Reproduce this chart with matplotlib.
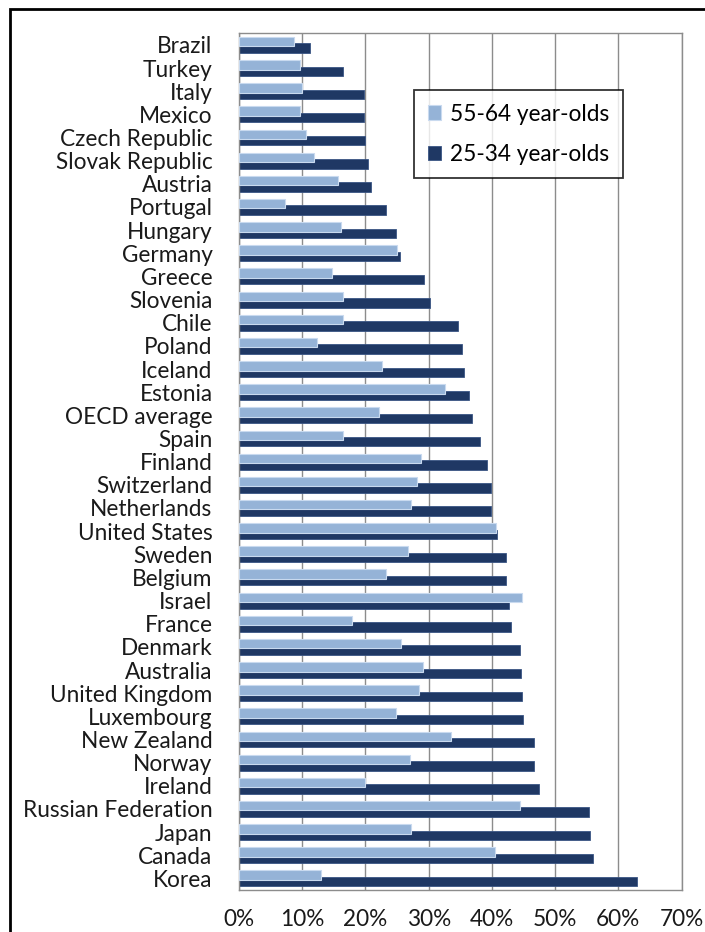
import matplotlib
matplotlib.use("Agg")
import matplotlib.pyplot as plt
from matplotlib.patches import Rectangle
import numpy as np

countries = ["Brazil", "Turkey", "Italy", "Mexico", "Czech Republic", "Slovak Republic",
             "Austria", "Portugal", "Hungary", "Germany", "Greece", "Slovenia", "Chile",
             "Poland", "Iceland", "Estonia", "OECD average", "Spain", "Finland",
             "Switzerland", "Netherlands", "United States", "Sweden", "Belgium", "Israel",
             "France", "Denmark", "Australia", "United Kingdom", "Luxembourg",
             "New Zealand", "Norway", "Ireland", "Russian Federation", "Japan", "Canada",
             "Korea"]
older_55_64 = [8.7, 9.6, 10.0, 9.6, 10.6, 11.9, 15.7, 7.2, 16.1, 25.0, 14.7, 16.5, 16.5,
               12.4, 22.6, 32.6, 22.1, 16.4, 28.8, 28.1, 27.2, 40.6, 26.7, 23.2, 44.8,
               17.8, 25.6, 29.1, 28.4, 24.8, 33.5, 27.0, 20.0, 44.4, 27.2, 40.5, 13.0]
younger_25_34 = [11.3, 16.4, 19.8, 19.8, 20.0, 20.4, 20.8, 23.2, 24.8, 25.5, 29.2, 30.2,
                 34.7, 35.3, 35.6, 36.3, 36.8, 38.1, 39.2, 39.8, 39.9, 40.8, 42.2, 42.3,
                 42.7, 43.0, 44.5, 44.6, 44.7, 44.9, 46.6, 46.7, 47.4, 55.3, 55.5, 56.0,
                 62.9]
xticks = [0, 10, 20, 30, 40, 50, 60, 70]
xtick_labels = ["0%", "10%", "20%", "30%", "40%", "50%", "60%", "70%"]

plt.rcParams['font.family'] = ['Lato', 'DejaVu Sans']

W, H = 705, 932
fig = plt.figure(figsize=(W / 100, H / 100), dpi=100)
ax = fig.add_axes([239 / W, 1 - 890 / H, (681.6 - 239) / W, (890 - 33.3) / H])

LIGHT = "#95B3D7"
DARK = "#1F3864"
FS = 16.3
y = np.arange(len(countries))
h = 0.41
off = 0.14
ax.barh(y + off, younger_25_34, height=h, color=DARK, edgecolor="#3A5584",
        linewidth=0.6, zorder=2, label="25-34 year-olds")
ax.barh(y - off, older_55_64, height=h, color=LIGHT, edgecolor="#C9DAEF",
        linewidth=0.8, zorder=3, label="55-64 year-olds")

ax.set_xlim(0, 70)
ax.set_ylim(len(countries) - 0.5, -0.5)
ax.set_xticks(xticks)
ax.set_xticklabels(xtick_labels)
ax.set_yticks(y)
ax.set_yticklabels(countries)
ax.tick_params(axis='both', length=0, labelsize=FS, colors="#1a1a1a")
ax.tick_params(axis='y', pad=19)
ax.tick_params(axis='x', pad=14)
ax.xaxis.grid(True, color="#8C8C8C", linewidth=1.0, zorder=0)
ax.set_axisbelow(True)
for s in ax.spines.values():
    s.set_color("#8C8C8C")
    s.set_linewidth(1.0)

handles, labels = ax.get_legend_handles_labels()
leg = ax.legend(handles[::-1], labels[::-1], loc="upper left",
                bbox_to_anchor=((414 - 239) / (681.6 - 239), 1 - (90 - 33.3) / (890 - 33.3)),
                frameon=True, fancybox=False, fontsize=FS, handlelength=0.6,
                handleheight=0.6, handletextpad=0.4, labelspacing=0.85,
                borderpad=0.6, borderaxespad=0)
leg.get_frame().set_edgecolor("black")
leg.get_frame().set_linewidth(1.3)
leg.set_zorder(5)

fig.patches.append(Rectangle((10 / W, -0.1), 1.2, 1 - 9.5 / H + 0.1,
                             transform=fig.transFigure, fill=False,
                             edgecolor="black", linewidth=2.0))

fig.savefig("out.png", dpi=100)
